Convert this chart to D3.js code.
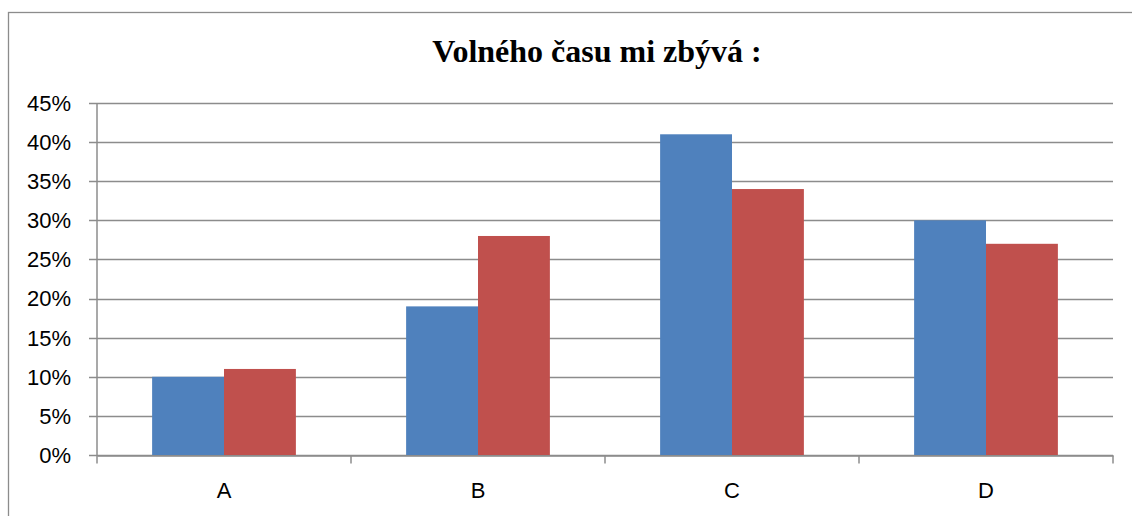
<!DOCTYPE html>
<html>
<head>
<meta charset="utf-8">
<script src="https://cdn.jsdelivr.net/npm/d3@7"></script>
<style>
  html, body { margin: 0; padding: 0; background: #fff; }
  svg { display: block; }
</style>
</head>
<body>
<svg id="chart" width="1132" height="516"></svg>
<script>
// Chart data
const categories = ["A", "B", "C", "D"];
const seriesNames = ["Řada 1", "Řada 2"];
const series1 = [0.10, 0.19, 0.41, 0.30];
const series2 = [0.11, 0.28, 0.34, 0.27];
const yTicks = [0, 0.05, 0.10, 0.15, 0.20, 0.25, 0.30, 0.35, 0.40, 0.45];
const titleText = "Volného času mi zbývá :";

const colors = ["#4F81BD", "#C0504D"];
const W = 1132, H = 516;
const margin = { left: 97, right: 19, top: 103, bottom: 61 };

const svg = d3.select("#chart");

// outer chart frame
svg.append("rect")
  .attr("x", 8.5).attr("y", 12.5)
  .attr("width", W + 20).attr("height", H + 20)
  .attr("fill", "#fff").attr("stroke", "#8c8c8c").attr("stroke-width", 1.3);

const x0 = d3.scaleBand()
  .domain(categories)
  .range([margin.left, W - margin.right])
  .paddingInner(0.434).paddingOuter(0.217);
const xOuter = d3.scaleBand().domain(categories).range([margin.left, W - margin.right]);
const x1 = d3.scaleBand().domain(d3.range(2)).range([0, x0.bandwidth()]);
const y = d3.scaleLinear().domain([0, 0.45]).range([H - margin.bottom, margin.top]);

// gridlines
svg.append("g")
  .selectAll("line")
  .data(yTicks)
  .join("line")
  .attr("x1", margin.left - 8).attr("x2", W - margin.right)
  .attr("y1", d => Math.round(y(d)) + 0.5).attr("y2", d => Math.round(y(d)) + 0.5)
  .attr("stroke", "#8c8c8c").attr("stroke-width", 1.5);

// bars
const table = categories.map((c, i) => ({ cat: c, vals: [series1[i], series2[i]] }));
svg.append("g")
  .selectAll("g")
  .data(table)
  .join("g")
  .attr("transform", d => `translate(${x0(d.cat)},0)`)
  .selectAll("rect")
  .data(d => d.vals.map((v, k) => ({ v, k })))
  .join("rect")
  .attr("x", d => x1(d.k))
  .attr("width", x1.bandwidth())
  .attr("y", d => y(d.v))
  .attr("height", d => y(0) - y(d.v))
  .attr("fill", d => colors[d.k]);

// x axis line and ticks
const xAxis = d3.axisBottom(xOuter).tickSize(0).tickFormat("");
const gx = svg.append("g").attr("transform", `translate(0,${Math.round(y(0)) + 0.5})`).call(xAxis);
gx.select(".domain").attr("stroke", "#8c8c8c").attr("stroke-width", 1.5);
const boundaries = categories.map(c => xOuter(c)).concat([W - margin.right]);
gx.selectAll(".bt").data(boundaries).join("line").attr("class", "bt")
  .attr("x1", d => d).attr("x2", d => d).attr("y1", 0).attr("y2", 8)
  .attr("stroke", "#8c8c8c").attr("stroke-width", 1.5);

// y axis line
svg.append("line")
  .attr("x1", margin.left).attr("x2", margin.left)
  .attr("y1", margin.top).attr("y2", H - margin.bottom)
  .attr("stroke", "#8c8c8c").attr("stroke-width", 1.5);

// y tick labels
svg.append("g")
  .selectAll("text")
  .data(yTicks)
  .join("text")
  .attr("x", 71).attr("y", d => y(d))
  .attr("dy", "0.36em")
  .attr("text-anchor", "end")
  .attr("font-family", "Liberation Sans, Arial, sans-serif")
  .attr("font-size", 22)
  .attr("fill", "#000")
  .text(d => d3.format(".0%")(d));

// category labels
svg.append("g")
  .selectAll("text")
  .data(categories)
  .join("text")
  .attr("x", d => xOuter(d) + xOuter.bandwidth() / 2)
  .attr("y", 498)
  .attr("text-anchor", "middle")
  .attr("font-family", "Liberation Sans, Arial, sans-serif")
  .attr("font-size", 22)
  .attr("fill", "#000")
  .text(d => d);

// title
svg.append("text")
  .attr("x", 597).attr("y", 62)
  .attr("text-anchor", "middle")
  .attr("font-family", "Liberation Serif, Times New Roman, serif")
  .attr("font-weight", "bold")
  .attr("font-size", 32)
  .attr("fill", "#000")
  .text(titleText);
</script>
</body>
</html>
